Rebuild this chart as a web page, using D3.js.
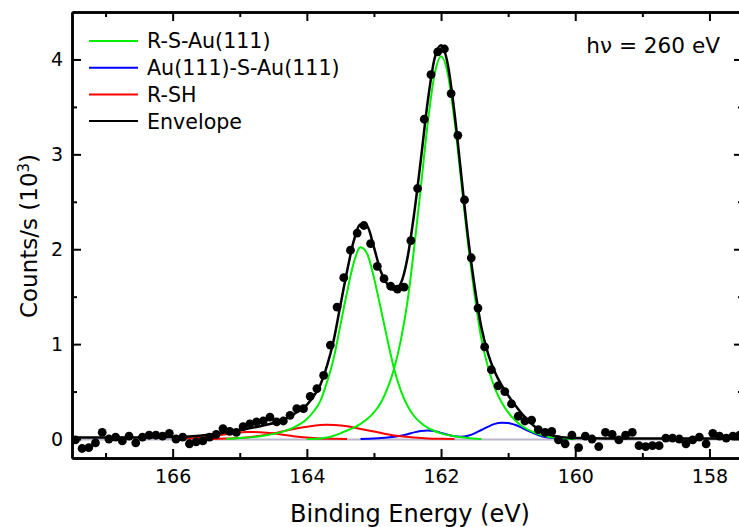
<!DOCTYPE html>
<html>
<head>
<meta charset="utf-8">
<script src="https://cdn.jsdelivr.net/npm/d3@7/dist/d3.min.js"></script>
<style>
  html, body { margin: 0; padding: 0; background: #fff; }
  svg text { font-family: "DejaVu Sans", Verdana, sans-serif; fill: #000; }
</style>
</head>
<body>
<div id="chart"></div>
<script>
// measured S 2p spectrum, hv = 260 eV (binding energy in eV, counts in 10^3/s)
const dataEnergy = [
  167.45, 167.35, 167.25, 167.15, 167.05, 166.95, 166.85, 166.75, 166.65, 166.55,
  166.45, 166.35, 166.25, 166.15, 166.05, 165.95, 165.85, 165.75, 165.65, 165.55,
  165.45, 165.35, 165.25, 165.15, 165.05, 164.95, 164.85, 164.75, 164.65, 164.55,
  164.45, 164.35, 164.25, 164.15, 164.05, 163.95, 163.85, 163.75, 163.65, 163.55,
  163.45, 163.35, 163.25, 163.15, 163.05, 162.95, 162.85, 162.75, 162.65, 162.55,
  162.45, 162.35, 162.25, 162.15, 162.05, 161.95, 161.85, 161.75, 161.65, 161.55,
  161.45, 161.35, 161.25, 161.15, 161.05, 160.95, 160.85, 160.75, 160.65, 160.55,
  160.45, 160.35, 160.25, 160.15, 160.05, 159.95, 159.85, 159.75, 159.65, 159.55,
  159.45, 159.35, 159.25, 159.15, 159.05, 158.95, 158.85, 158.75, 158.65, 158.55,
  158.45, 158.35, 158.25, 158.15, 158.05, 157.95, 157.85, 157.75, 157.65, 157.55
];
const dataCounts = [
  -0.01, -0.10, -0.09, -0.04, 0.07, 0.00, 0.02, -0.02, 0.03, -0.04,
  0.02, 0.04, 0.04, 0.03, 0.06, 0.00, 0.02, -0.05, -0.03, -0.02,
  0.02, 0.05, 0.11, 0.08, 0.07, 0.13, 0.16, 0.18, 0.19, 0.23,
  0.18, 0.19, 0.25, 0.32, 0.32, 0.45, 0.53, 0.67, 0.99, 1.39,
  1.70, 1.99, 2.17, 2.25, 2.06, 1.82, 1.69, 1.61, 1.58, 1.60,
  2.09, 2.64, 3.37, 3.84, 4.08, 4.11, 3.64, 3.20, 2.52, 1.91,
  1.38, 0.97, 0.73, 0.56, 0.50, 0.37, 0.24, 0.19, 0.20, 0.10,
  0.07, 0.08, -0.01, -0.05, 0.04, -0.09, 0.03, 0.00, -0.08, 0.07,
  0.05, -0.01, 0.04, 0.07, -0.07, -0.08, -0.07, -0.07, 0.01, 0.01,
  0.00, -0.05, -0.01, 0.02, -0.05, 0.06, 0.03, 0.01, 0.03, 0.04
];

// fitted components as [energy, counts]
const rsAuLow = [ // R-S-Au(111), S 2p3/2
  [164.0, 0.0], [163.8, 0.005], [163.7, 0.015], [163.6, 0.035], [163.5, 0.06], [163.4, 0.09],
  [163.3, 0.12], [163.2, 0.16], [163.1, 0.21], [163.0, 0.28], [162.9, 0.38], [162.8, 0.53],
  [162.7, 0.74], [162.6, 1.04], [162.5, 1.45], [162.4, 2.02], [162.3, 2.66], [162.2, 3.32],
  [162.1, 3.83], [162.0, 4.03], [161.9, 3.85], [161.8, 3.36], [161.7, 2.72], [161.6, 2.07],
  [161.5, 1.52], [161.4, 1.06], [161.3, 0.76], [161.2, 0.54], [161.1, 0.39], [161.0, 0.28],
  [160.9, 0.20], [160.8, 0.14], [160.6, 0.065], [160.4, 0.025], [160.2, 0.008], [160.0, 0.0]
];
const rsAuHigh = [ // R-S-Au(111), S 2p1/2
  [165.2, 0.0], [165.0, 0.01], [164.8, 0.02], [164.6, 0.04], [164.4, 0.07], [164.2, 0.12],
  [164.0, 0.21], [163.9, 0.29], [163.8, 0.40], [163.7, 0.60], [163.6, 0.85], [163.5, 1.20],
  [163.4, 1.55], [163.3, 1.86], [163.2, 2.02], [163.1, 1.95], [163.0, 1.70], [162.9, 1.38],
  [162.8, 1.05], [162.7, 0.74], [162.6, 0.51], [162.5, 0.35], [162.4, 0.24], [162.3, 0.17],
  [162.2, 0.12], [162.0, 0.06], [161.8, 0.03], [161.6, 0.01], [161.4, 0.0]
];
const auSAu = [ // Au(111)-S-Au(111)
  [163.2, 0.0], [163.0, 0.005], [162.8, 0.015], [162.6, 0.035], [162.5, 0.05], [162.4, 0.07],
  [162.3, 0.085], [162.2, 0.09], [162.1, 0.085], [162.0, 0.065], [161.9, 0.045], [161.8, 0.03],
  [161.7, 0.025], [161.6, 0.035], [161.5, 0.06], [161.4, 0.095], [161.3, 0.13], [161.2, 0.16],
  [161.1, 0.172], [161.0, 0.17], [160.9, 0.15], [160.8, 0.12], [160.7, 0.085], [160.6, 0.055],
  [160.5, 0.03], [160.4, 0.015], [160.2, 0.004], [160.0, 0.0]
];
const rshLow = [ // R-SH, S 2p3/2
  [165.4, 0.0], [165.2, 0.005], [165.0, 0.012], [164.8, 0.025], [164.6, 0.045], [164.4, 0.075],
  [164.2, 0.105], [164.0, 0.129], [163.8, 0.147], [163.7, 0.15], [163.6, 0.148], [163.4, 0.135],
  [163.2, 0.105], [163.0, 0.08], [162.8, 0.05], [162.6, 0.028], [162.4, 0.015], [162.2, 0.006],
  [162.0, 0.002], [161.8, 0.0]
];
const rshHigh = [ // R-SH, S 2p1/2
  [166.0, 0.0], [165.8, 0.005], [165.6, 0.014], [165.4, 0.03], [165.2, 0.05], [165.0, 0.068],
  [164.9, 0.075], [164.8, 0.074], [164.6, 0.065], [164.4, 0.05], [164.2, 0.03], [164.0, 0.015],
  [163.8, 0.006], [163.6, 0.002], [163.4, 0.0]
];
const background = [[167.5, -0.005], [157.5, -0.005]];
const envelope = [
  [167.5, 0.015], [167.0, 0.015], [166.5, 0.015], [166.0, 0.02], [165.8, 0.025], [165.6, 0.035],
  [165.4, 0.05], [165.2, 0.07], [165.0, 0.095], [164.8, 0.12], [164.6, 0.15], [164.4, 0.19],
  [164.2, 0.26], [164.0, 0.36], [163.9, 0.45], [163.8, 0.57], [163.7, 0.77], [163.6, 1.04],
  [163.5, 1.41], [163.4, 1.77], [163.3, 2.09], [163.2, 2.26], [163.1, 2.24], [163.0, 2.02],
  [162.9, 1.77], [162.8, 1.63], [162.7, 1.57], [162.6, 1.64], [162.5, 1.91], [162.4, 2.38],
  [162.3, 2.95], [162.2, 3.55], [162.1, 4.00], [162.0, 4.15], [161.9, 3.95], [161.8, 3.44],
  [161.7, 2.79], [161.6, 2.14], [161.5, 1.61], [161.4, 1.18], [161.3, 0.90], [161.2, 0.71],
  [161.1, 0.57], [161.0, 0.46], [160.9, 0.36], [160.8, 0.27], [160.7, 0.195], [160.6, 0.13],
  [160.5, 0.085], [160.4, 0.05], [160.2, 0.02], [160.0, 0.01], [159.5, 0.005], [157.5, 0.005]
];

const legendNames = ['R-S-Au(111)', 'Au(111)-S-Au(111)', 'R-SH', 'Envelope'];
const legendColors = ['#00ee00', '#0000ff', '#ff0000', '#000000'];

const xMajorTicks = [166, 164, 162, 160, 158];
const xMinorTicks = [167, 165, 163, 161, 159];
const yMajorTicks = [0, 1, 2, 3, 4];
const yMinorTicks = [0.5, 1.5, 2.5, 3.5];

const width = 739, height = 527;
const margin = {top: 12, right: -4, bottom: 69, left: 72};
const plotW = width - margin.left - margin.right;
const plotH = height - margin.top - margin.bottom;

const scaleX = d3.scaleLinear().domain([167.5, 157.5]).range([0, plotW]);
const scaleY = d3.scaleLinear().domain([-0.2, 4.5]).range([plotH, 0]);

const svg = d3.select('#chart').append('svg')
    .attr('width', width)
    .attr('height', height);

const defs = svg.append('defs');
defs.append('clipPath').attr('id', 'plotClip')
    .append('rect').attr('width', plotW).attr('height', plotH);

const chrt = svg.append('g')
    .attr('transform', 'translate(' + margin.left + ',' + margin.top + ')');

const plot = chrt.append('g').attr('clip-path', 'url(#plotClip)');

const line = d3.line()
    .x((d) => scaleX(d[0]))
    .y((d) => scaleY(d[1]))
    .curve(d3.curveMonotoneX);

// components first, envelope and data on top
plot.append('path').datum(background)
    .attr('fill', 'none').attr('stroke', '#b8b8cc').attr('stroke-width', 2)
    .attr('d', line);
const comps = [
  {d: auSAu, c: legendColors[1]},
  {d: rshHigh, c: legendColors[2]}, {d: rshLow, c: legendColors[2]},
  {d: rsAuHigh, c: legendColors[0]}, {d: rsAuLow, c: legendColors[0]}
];
comps.forEach((cp) => {
  plot.append('path').datum(cp.d)
      .attr('fill', 'none').attr('stroke', cp.c).attr('stroke-width', 2)
      .attr('d', line);
});
plot.append('path').datum(envelope)
    .attr('fill', 'none').attr('stroke', '#000').attr('stroke-width', 2.5)
    .attr('d', line);

plot.selectAll('circle.pt')
    .data(dataEnergy)
    .enter().append('circle')
    .attr('class', 'pt')
    .attr('cx', (d) => scaleX(d))
    .attr('cy', (d, i) => scaleY(dataCounts[i]))
    .attr('r', 4.4)
    .attr('fill', '#000');

// axes, ticks pointing inwards on all four sides
function styleAxis(g) {
  g.select('.domain').attr('stroke-width', 2.5);
  g.selectAll('.tick line').attr('stroke-width', 2);
  g.selectAll('.tick text').style('font-size', '19px').attr('font-family', null);
}
const none = () => '';

chrt.append('g').attr('transform', 'translate(0,' + plotH + ')')
    .call(d3.axisBottom(scaleX).tickValues(xMajorTicks).tickSize(-9).tickSizeOuter(0).tickPadding(12).tickFormat(d3.format('d')))
    .call(styleAxis);
chrt.append('g').attr('transform', 'translate(0,' + plotH + ')')
    .call(d3.axisBottom(scaleX).tickValues(xMinorTicks).tickSize(-5).tickSizeOuter(0).tickFormat(none))
    .call(styleAxis);
chrt.append('g')
    .call(d3.axisTop(scaleX).tickValues(xMajorTicks).tickSize(-9).tickSizeOuter(0).tickFormat(none))
    .call(styleAxis);
chrt.append('g')
    .call(d3.axisTop(scaleX).tickValues(xMinorTicks).tickSize(-5).tickSizeOuter(0).tickFormat(none))
    .call(styleAxis);
chrt.append('g')
    .call(d3.axisLeft(scaleY).tickValues(yMajorTicks).tickSize(-9).tickSizeOuter(0).tickPadding(9).tickFormat(d3.format('d')))
    .call(styleAxis);
chrt.append('g')
    .call(d3.axisLeft(scaleY).tickValues(yMinorTicks).tickSize(-5).tickSizeOuter(0).tickFormat(none))
    .call(styleAxis);
chrt.append('g').attr('transform', 'translate(' + plotW + ',0)')
    .call(d3.axisRight(scaleY).tickValues(yMajorTicks).tickSize(-9).tickSizeOuter(0).tickFormat(none))
    .call(styleAxis);
chrt.append('g').attr('transform', 'translate(' + plotW + ',0)')
    .call(d3.axisRight(scaleY).tickValues(yMinorTicks).tickSize(-5).tickSizeOuter(0).tickFormat(none))
    .call(styleAxis);

// axis titles
svg.append('text')
    .attr('x', 410).attr('y', 522)
    .attr('text-anchor', 'middle')
    .style('font-size', '24px')
    .text('Binding Energy (eV)');

const yTitle = svg.append('text')
    .attr('transform', 'translate(37,236) rotate(-90)')
    .attr('text-anchor', 'middle')
    .style('font-size', '23px');
yTitle.append('tspan').text('Counts/s (10');
yTitle.append('tspan').attr('dy', '-0.55em').style('font-size', '15px').text('3');
yTitle.append('tspan').attr('dy', '0.37em').text(')');

svg.append('text')
    .attr('x', 720).attr('y', 53)
    .attr('text-anchor', 'end')
    .style('font-size', '21.6px')
    .text('h\u03bd = 260 eV');

// legend
const legend = svg.append('g');
legendNames.forEach((name, i) => {
  const y = 41 + i * 26.7;
  legend.append('line')
      .attr('x1', 89).attr('x2', 138).attr('y1', y).attr('y2', y)
      .attr('stroke', legendColors[i]).attr('stroke-width', 2);
  legend.append('text')
      .attr('x', 147).attr('y', y).attr('dy', '0.36em')
      .style('font-size', '20.6px')
      .text(name);
});
</script>
</body>
</html>
